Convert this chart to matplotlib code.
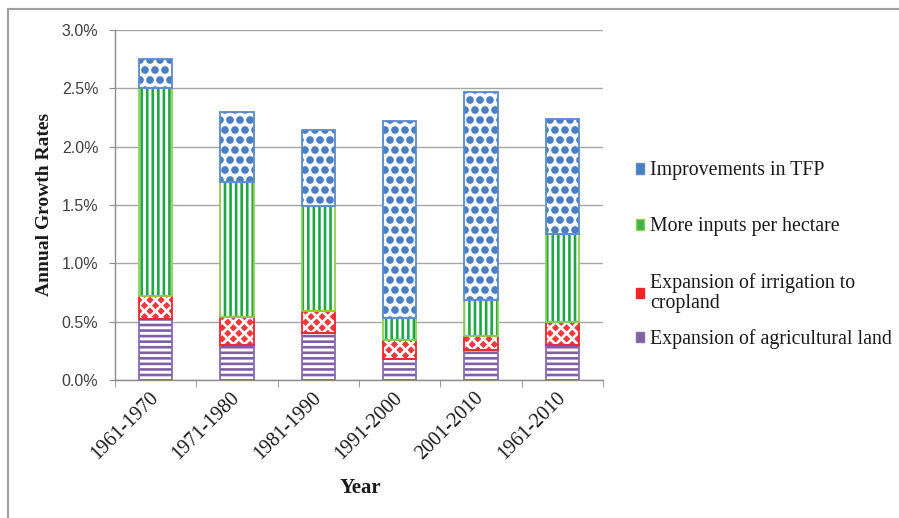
import matplotlib
matplotlib.use("Agg")
import matplotlib.pyplot as plt
import matplotlib.hatch as mhatch
from matplotlib.lines import Line2D
from matplotlib.patches import Patch
from matplotlib.ticker import FuncFormatter, FixedLocator
import numpy as np

# Decades and the four sources of agricultural output growth (% per year)
periods = ["1961-1970", "1971-1980", "1981-1990", "1991-2000", "2001-2010", "1961-2010"]
land_expansion = [0.52, 0.30, 0.40, 0.18, 0.26, 0.30]
irrigation_expansion = [0.20, 0.24, 0.19, 0.16, 0.12, 0.20]
more_inputs = [1.78, 1.16, 0.90, 0.19, 0.31, 0.75]
tfp_improvements = [0.25, 0.60, 0.65, 1.69, 1.78, 0.99]

series_labels = [
    "Expansion of agricultural land",
    "Expansion of irrigation to\ncropland",
    "More inputs per hectare",
    "Improvements in TFP",
]
y_ticks = [0.0, 0.5, 1.0, 1.5, 2.0, 2.5, 3.0]


# '*' hatch drawn as a grid of large filled dots (row count must be even)
class BigDots(mhatch.Circles):
    size = 0.25
    filled = True

    def __init__(self, hatch, density):
        n = hatch.count('*')
        self.num_rows = 10 * n if n else 0
        super().__init__(hatch, density)


mhatch._hatch_types[:] = [BigDots if t is mhatch.Stars else t
                          for t in mhatch._hatch_types]

plt.rcParams["hatch.linewidth"] = 1.9

W, H = 899, 518
fig = plt.figure(figsize=(W / 100, H / 100), dpi=100)
ax = fig.add_axes([115 / W, 1 - 380 / H, (603 - 115) / W, (380 - 30) / H])

x = np.arange(len(periods))
width = 0.41

styles = [
    # (face, hatch colour, edge colour, hatch)
    ("white", "#7F5FA8", "#8A6BB0", "---"),
    ("#F0383C", "white", "#F0262A", "xxx"),
    ("white", "#1FA84A", "#92D050", "|||"),
    ("white", "#4A7EC2", "#5B8BCB", "*"),
]
legend_faces = ["#8064A2", "#F0262A", "#3DB54A", "#4A7EC2"]
values = [land_expansion, irrigation_expansion, more_inputs, tfp_improvements]

bottom = np.zeros(len(periods))
for vals, (face, hcol, ecol, hatch), lab in zip(values, styles, series_labels):
    vals = np.array(vals)
    ax.bar(x, vals, width, bottom=bottom, facecolor=face,
           edgecolor=hcol, linewidth=0, hatch=hatch, zorder=3, label=lab)
    ax.bar(x, vals, width, bottom=bottom, fill=False, edgecolor=ecol,
           linewidth=1.3, zorder=4)
    bottom += vals

ax.set_xlim(-0.5, len(periods) - 0.5)
ax.set_ylim(0, 3.0)
ax.yaxis.set_major_locator(FixedLocator(y_ticks))
ax.yaxis.set_major_formatter(FuncFormatter(lambda v, p: f"{v:.1f}%"))
ax.grid(axis="y", color="#A6A6A6", linewidth=1.0, zorder=0)
ax.set_axisbelow(True)

for s in ["top", "right"]:
    ax.spines[s].set_visible(False)
for s in ["left", "bottom"]:
    ax.spines[s].set_color("#8C8C8C")
    ax.spines[s].set_linewidth(1.0)

ax.tick_params(axis="y", length=4, color="#8C8C8C", pad=8, labelsize=11.5,
               labelcolor="#404040")
for t in ax.get_yticklabels():
    t.set_fontfamily("Liberation Sans")

ax.set_xticks(x)
ax.set_xticks(np.arange(-0.5, len(periods) + 0.5, 1.0), minor=True)
ax.tick_params(axis="x", which="major", length=0, pad=11)
ax.tick_params(axis="x", which="minor", length=5, color="#8C8C8C")
ax.set_xticklabels(periods, rotation=45, ha="right", va="center",
                   rotation_mode="anchor", fontsize=14.5,
                   fontfamily="Liberation Serif", color="#1a1a1a")

fig.text(45 / W, 1 - 204 / H, "Annual Growth Rates", rotation=90, ha="center",
         va="center", fontsize=14, fontweight="bold",
         fontfamily="Liberation Serif", color="#1a1a1a")
fig.text(360 / W, 1 - 488 / H, "Year", ha="center", va="center", fontsize=15,
         fontweight="bold", fontfamily="Liberation Serif", color="#1a1a1a")

# one legend entry per series, listed top-down from TFP to land
entry_y = [339, 293, 227, 171]
for lab, face, (_, _, ecol, _), ypix in zip(series_labels, legend_faces,
                                            styles, entry_y):
    handle = Patch(facecolor=face, edgecolor=ecol, linewidth=1.0)
    leg = fig.legend([handle], [lab], loc="center left",
                     bbox_to_anchor=(636 / W, 1 - ypix / H), frameon=False,
                     prop={"family": "Liberation Serif", "size": 14.3},
                     handlelength=0.42, handleheight=0.42, handletextpad=0.3,
                     borderpad=0, borderaxespad=0)
    for t in leg.get_texts():
        t.set_linespacing(1.05)
        t.set_color("#1a1a1a")

# outer frame of the chart area
fig.add_artist(Line2D([8 / W, 8 / W], [0, 1 - 9 / H], color="#A0A0A0",
                      linewidth=1.5, transform=fig.transFigure))
fig.add_artist(Line2D([8 / W, 1], [1 - 9 / H, 1 - 9 / H], color="#A0A0A0",
                      linewidth=1.5, transform=fig.transFigure))

fig.savefig("out.png", dpi=100)
